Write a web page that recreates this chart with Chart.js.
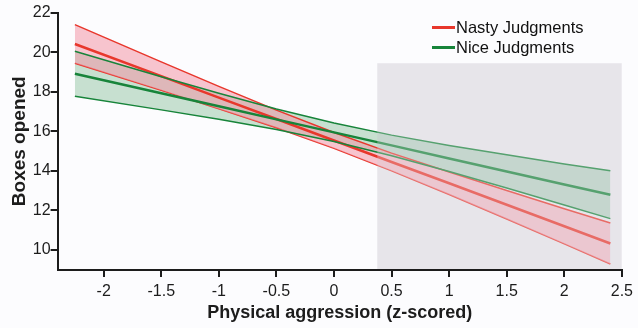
<!DOCTYPE html>
<html>
<head>
<meta charset="utf-8">
<script src="https://cdn.jsdelivr.net/npm/chart.js@4.4.1/dist/chart.umd.min.js"></script>
<style>
  html, body { margin: 0; padding: 0; background: #fcfcfe; }
  #wrap { position: relative; width: 638px; height: 328px; }
  #myChart { display: block; }
  #legend { position: absolute; left: 432px; top: 17px; font-family: "Liberation Sans", Arial, sans-serif; font-size: 16.5px; color: #111; line-height: 20px; }
  #legend div { white-space: nowrap; }
  #legend span.ln { display: inline-block; width: 23px; height: 3px; vertical-align: middle; margin-right: 1px; position: relative; top: -1px; }
</style>
</head>
<body>
<div id="wrap">
  <canvas id="myChart" width="638" height="328"></canvas>
  <div id="legend">
    <div><span class="ln" style="background:#e8372c"></span>Nasty Judgments</div>
    <div><span class="ln" style="background:#17843a"></span>Nice Judgments</div>
  </div>
</div>
<script>
// x positions the lines were read at
let xs = [-2.25, -1.5, -1, -0.5, 0, 0.5, 1, 1.5, 2, 2.4];

let nastyMid   = [20.43, 18.80, 17.71, 16.63, 15.54, 14.45, 13.37, 12.28, 11.19, 10.32];
let nastyUpper = [21.41, 19.52, 18.28, 17.08, 15.94, 14.90, 13.94, 13.00, 12.08, 11.36];
let nastyLower = [19.45, 18.08, 17.14, 16.18, 15.14, 14.00, 12.80, 11.56, 10.30, 9.28];

let niceMid   = [18.92, 17.93, 17.27, 16.61, 15.95, 15.29, 14.63, 13.97, 13.31, 12.79];
let niceUpper = [20.06, 18.77, 17.93, 17.13, 16.42, 15.81, 15.29, 14.81, 14.35, 14.00];
let niceLower = [17.78, 17.09, 16.61, 16.09, 15.49, 14.77, 13.97, 13.13, 12.27, 11.58];

// shaded region (x from, x to, top)
let shadeX = [0.375, 2.5];
let shadeTop = 19.45;

let xTicks = [-2, -1.5, -1, -0.5, 0, 0.5, 1, 1.5, 2, 2.5];
let yTicks = [10, 12, 14, 16, 18, 20, 22];

const RED = '#e8372c';
const GREEN = '#17843a';
const AXIS = '#1c1c1c';

function pts(arr) {
    return xs.map((x, i) => ({ x: x, y: arr[i] }));
}

function shadePts() {
    return shadeX.map(x => ({ x: x, y: shadeTop }));
}

function line(label, arr, color, width, order) {
    return { label: label, data: pts(arr), borderColor: color, borderWidth: width, fill: false, pointRadius: 0, order: order };
}

let nastyUpperSet = line('Nasty upper', nastyUpper, RED, 1.5, 7);
nastyUpperSet.fill = '+1';
nastyUpperSet.backgroundColor = 'rgba(242,150,165,0.55)';

const data = {
    datasets: [
        { label: 'shade', data: shadePts(), borderWidth: 0, backgroundColor: '#e7e6ea', fill: 'start', pointRadius: 0, order: 9 },
        // green band fills down to the nice lower line (index 6)
        { label: 'Nice band', data: pts(niceUpper), borderWidth: 0, backgroundColor: 'rgba(60,150,90,0.28)', fill: 6, pointRadius: 0, order: 8 },
        nastyUpperSet,
        line('Nasty lower', nastyLower, RED, 1.5, 7),
        line('Nasty Judgments', nastyMid, RED, 2.5, 6),
        line('Nice upper', niceUpper, GREEN, 1.5, 5),
        line('Nice lower', niceLower, GREEN, 1.5, 5),
        line('Nice Judgments', niceMid, GREEN, 2.5, 4),
        // light veil over the marks inside the box
        { label: 'veil', data: shadePts(), borderWidth: 0, backgroundColor: 'rgba(231,230,234,0.3)', fill: 'start', pointRadius: 0, order: 0 }
    ]
};

// axis lines and outward tick marks, filled as thin rects
const axisLines = {
    id: 'axisLines',
    afterDraw(chart) {
        const ctx = chart.ctx;
        const sx = chart.scales.x;
        const sy = chart.scales.y;
        const area = chart.chartArea;
        const left = Math.round(area.left);
        const bottom = Math.round(area.bottom);
        const top = Math.round(sy.getPixelForValue(22));
        const right = Math.round(sx.getPixelForValue(2.5));
        ctx.save();
        ctx.globalAlpha = 1;
        ctx.globalCompositeOperation = 'source-over';
        ctx.fillStyle = AXIS;
        ctx.fillRect(left - 1, top - 1, 2, bottom - top + 2);
        ctx.fillRect(left - 1, bottom - 1, right - left + 2, 2);
        sx.ticks.forEach(t => {
            let px = Math.round(sx.getPixelForValue(t.value));
            ctx.fillRect(px - 1, bottom, 2, 7);
        });
        sy.ticks.forEach(t => {
            let py = Math.round(sy.getPixelForValue(t.value));
            ctx.fillRect(left - 7, py - 1, 7, 2);
        });
        ctx.restore();
    }
};

const tickFont = { family: '"Liberation Sans", Arial, sans-serif', size: 16 };
const titleFam = '"Liberation Sans", Arial, sans-serif';

const config = {
    type: 'line',
    data: data,
    options: {
        responsive: false,
        animation: false,
        layout: { padding: { left: 8, right: 12, top: 13, bottom: 7 } },
        plugins: {
            legend: { display: false },
            tooltip: { enabled: false }
        },
        scales: {
            x: {
                type: 'linear',
                min: -2.4,
                max: 2.5,
                afterBuildTicks: (scale) => { scale.ticks = xTicks.map(v => ({ value: v })); },
                ticks: { color: AXIS, font: tickFont, padding: 5, maxRotation: 0, callback: (v) => String(v) },
                grid: { display: true, drawOnChartArea: false, drawTicks: true, tickLength: 7, color: AXIS, lineWidth: 2 },
                border: { display: true, color: AXIS, width: 2 },
                title: { display: true, text: 'Physical aggression (z-scored)', color: AXIS, font: { family: titleFam, size: 18, weight: 'bold', lineHeight: 0.85 }, padding: { top: 0, bottom: 0 } }
            },
            y: {
                min: 9,
                max: 22,
                afterBuildTicks: (scale) => { scale.ticks = yTicks.map(v => ({ value: v })); },
                ticks: { color: AXIS, font: tickFont, padding: 0, callback: (v) => String(v) },
                grid: { display: true, drawOnChartArea: false, drawTicks: true, tickLength: 7, color: AXIS, lineWidth: 2 },
                border: { display: true, color: AXIS, width: 2 },
                title: { display: true, text: 'Boxes opened', color: AXIS, font: { family: titleFam, size: 19, weight: 'bold' }, padding: { top: 0, bottom: 2 } }
            }
        }
    },
    plugins: [axisLines]
};

let myChart = new Chart(document.getElementById('myChart'), config);
</script>
</body>
</html>
